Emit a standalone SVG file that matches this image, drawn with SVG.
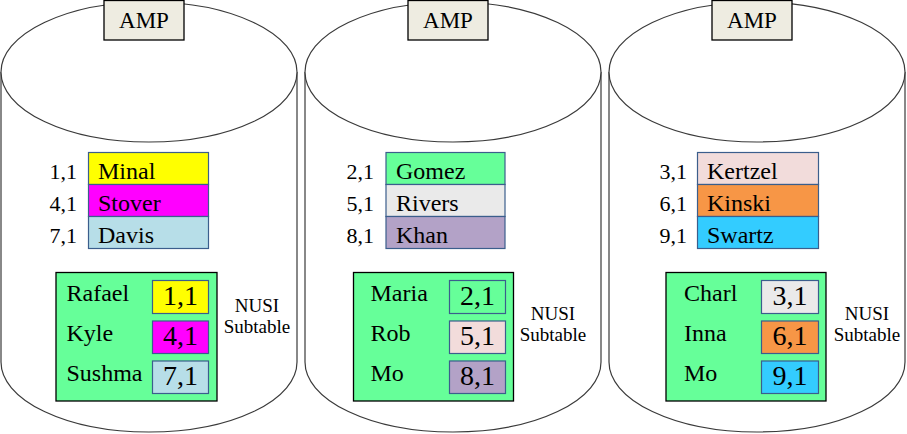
<svg xmlns="http://www.w3.org/2000/svg" width="907" height="434" viewBox="0 0 907 434">
<style>
.cyl{fill:#fff;stroke:#3a3a3a;stroke-width:1.2}
.amp{fill:#EEECE1;stroke:#000;stroke-width:1.3}
.t{font-family:"Liberation Serif","Times New Roman","DejaVu Serif",serif;fill:#000}
.amptx{font-size:23px;text-anchor:middle}
.row{stroke:#3B5E8C;stroke-width:1.2}
.nm{font-size:24px}
.lbl{font-size:22px;text-anchor:end}
.nusi{fill:#66FF99;stroke:#000;stroke-width:1.3}
.box{stroke:#3B5E8C;stroke-width:1.2}
.num{font-size:28px;text-anchor:middle}
.cap{font-size:19px;text-anchor:middle}
</style>
<rect width="907" height="434" fill="#fff"/>
<g id="amp1">
<path class="cyl" d="M1,72 L1,362 A148,70 0 0 0 297,362 L297,72"/>
<ellipse class="cyl" cx="149" cy="72" rx="148" ry="70"/>
<rect class="amp" x="104" y="0.5" width="80" height="39.5"/>
<text class="t amptx" x="144" y="28">AMP</text>
<rect class="row" x="88.5" y="152.5" width="120" height="32" fill="#FFFF00"/>
<rect class="row" x="88.5" y="184.5" width="120" height="32" fill="#FF00FF"/>
<rect class="row" x="88.5" y="216.5" width="120" height="32" fill="#B7DEE8"/>
<text class="t nm" x="98" y="179">Minal</text>
<text class="t nm" x="98" y="211">Stover</text>
<text class="t nm" x="98" y="243">Davis</text>
<text class="t lbl" x="77" y="179">1,1</text>
<text class="t lbl" x="77" y="211">4,1</text>
<text class="t lbl" x="77" y="243">7,1</text>
<rect class="nusi" x="56" y="272.5" width="161" height="128.5"/>
<rect class="box" x="152.5" y="280.5" width="56" height="33" fill="#FFFF00"/>
<rect class="box" x="152.5" y="321" width="56" height="32.5" fill="#FF00FF"/>
<rect class="box" x="152.5" y="361" width="56" height="32.5" fill="#B7DEE8"/>
<text class="t nm" x="66.5" y="301">Rafael</text>
<text class="t nm" x="66.5" y="341">Kyle</text>
<text class="t nm" x="66.5" y="381">Sushma</text>
<text class="t num" x="180.5" y="304.5">1,1</text>
<text class="t num" x="180.5" y="344.5">4,1</text>
<text class="t num" x="180.5" y="384.5">7,1</text>
<text class="t cap" x="257" y="312">NUSI</text>
<text class="t cap" x="257" y="333">Subtable</text>
</g>
<g id="amp2">
<path class="cyl" d="M305,72 L305,362 A148,70 0 0 0 601,362 L601,72"/>
<ellipse class="cyl" cx="453" cy="72" rx="148" ry="70"/>
<rect class="amp" x="408" y="0.5" width="80" height="39.5"/>
<text class="t amptx" x="448" y="28">AMP</text>
<rect class="row" x="386" y="152.5" width="119" height="32" fill="#66FF99"/>
<rect class="row" x="386" y="184.5" width="119" height="32" fill="#EAEAEA"/>
<rect class="row" x="386" y="216.5" width="119" height="32" fill="#B3A2C7"/>
<text class="t nm" x="396" y="179">Gomez</text>
<text class="t nm" x="396" y="211">Rivers</text>
<text class="t nm" x="396" y="243">Khan</text>
<text class="t lbl" x="374" y="179">2,1</text>
<text class="t lbl" x="374" y="211">5,1</text>
<text class="t lbl" x="374" y="243">8,1</text>
<rect class="nusi" x="353.5" y="272.5" width="160" height="128.5"/>
<rect class="box" x="449.5" y="280.5" width="56" height="33" fill="#66FF99"/>
<rect class="box" x="449.5" y="321" width="56" height="32.5" fill="#F2DCDB"/>
<rect class="box" x="449.5" y="361" width="56" height="32.5" fill="#B3A2C7"/>
<text class="t nm" x="370.5" y="301">Maria</text>
<text class="t nm" x="370.5" y="341">Rob</text>
<text class="t nm" x="370.5" y="381">Mo</text>
<text class="t num" x="477.5" y="304.5">2,1</text>
<text class="t num" x="477.5" y="344.5">5,1</text>
<text class="t num" x="477.5" y="384.5">8,1</text>
<text class="t cap" x="553" y="320">NUSI</text>
<text class="t cap" x="553" y="341">Subtable</text>
</g>
<g id="amp3">
<path class="cyl" d="M609,72 L609,362 A148,70 0 0 0 905,362 L905,72"/>
<ellipse class="cyl" cx="757" cy="72" rx="148" ry="70"/>
<rect class="amp" x="712" y="0.5" width="80" height="39.5"/>
<text class="t amptx" x="752" y="28">AMP</text>
<rect class="row" x="697.5" y="152.5" width="121" height="32" fill="#F2DCDB"/>
<rect class="row" x="697.5" y="184.5" width="121" height="32" fill="#F79646"/>
<rect class="row" x="697.5" y="216.5" width="121" height="32" fill="#33CCFF"/>
<text class="t nm" x="707" y="179">Kertzel</text>
<text class="t nm" x="707" y="211">Kinski</text>
<text class="t nm" x="707" y="243">Swartz</text>
<text class="t lbl" x="687" y="179">3,1</text>
<text class="t lbl" x="687" y="211">6,1</text>
<text class="t lbl" x="687" y="243">9,1</text>
<rect class="nusi" x="666" y="272.5" width="160" height="128.5"/>
<rect class="box" x="761.5" y="280.5" width="57" height="33" fill="#EAEAEA"/>
<rect class="box" x="761.5" y="321" width="57" height="32.5" fill="#F79646"/>
<rect class="box" x="761.5" y="361" width="57" height="32.5" fill="#33CCFF"/>
<text class="t nm" x="684" y="301">Charl</text>
<text class="t nm" x="684" y="341">Inna</text>
<text class="t nm" x="684" y="381">Mo</text>
<text class="t num" x="790" y="304.5">3,1</text>
<text class="t num" x="790" y="344.5">6,1</text>
<text class="t num" x="790" y="384.5">9,1</text>
<text class="t cap" x="867" y="320">NUSI</text>
<text class="t cap" x="867" y="341">Subtable</text>
</g>
<g id="connectors"></g>
</svg>
